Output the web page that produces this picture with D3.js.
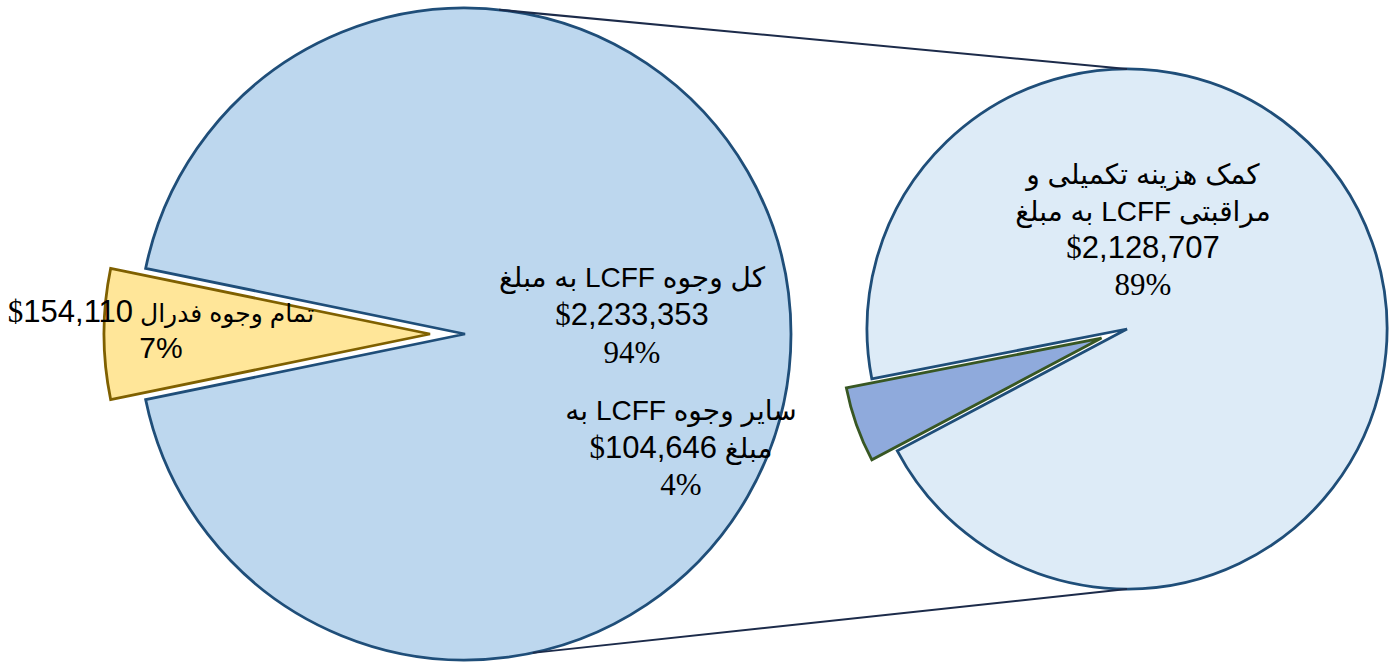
<!DOCTYPE html>
<html>
<head>
<meta charset="utf-8">
<script src="https://cdn.jsdelivr.net/npm/d3@7"></script>
<style>
  html, body { margin: 0; padding: 0; background: #fff; }
  svg { display: block; }
</style>
</head>
<body>
<div id="chart"></div>
<script>
/*global d3*/
(function () {
    "use strict";

    // Main pie: all LCFF funds vs. federal funds
    var mainCategories = ["کل وجوه LCFF", "تمام وجوه فدرال"];
    var mainValues = [2233353, 154110];
    var mainPercents = ["94%", "7%"];

    // Second pie: breakdown of LCFF
    var subCategories = ["کمک هزینه تکمیلی و مراقبتی LCFF", "سایر وجوه LCFF"];
    var subValues = [2128707, 104646];
    var subPercents = ["89%", "4%"];

    var width = 1390,
        height = 663,
        deg = Math.PI / 180;

    var geom = {
        main: {cx: 465, cy: 334, r: 326, explodeIndex: 1, explodeAt: 270, explode: 35},
        sub: {cx: 1127, cy: 329, r: 260, explodeIndex: 1, explodeAt: 250.5, explode: 27}
    };

    var colors = {
        mainFill: ["#bdd7ee", "#ffe699"],
        mainStroke: ["#1f4e79", "#7f6000"],
        subFill: ["#ddebf7", "#8faadc"],
        subStroke: ["#1f4e79", "#385723"],
        connector: "#1c2b4a"
    };

    var money = function (v) {
        return "$" + d3.format(",")(v);
    };

    // label lines are broken the same way as in the original chart
    var labels = [
        {lines: [mainCategories[0] + " به مبلغ", money(mainValues[0]), mainPercents[0]],
            x: 632, y: 287, lh: 38, pctSerif: true, arSize: 28},
        {lines: [mainCategories[1] + " " + money(mainValues[1]), mainPercents[1]],
            x: 161, y: 322, lh: 36, pctSerif: false, arSize: 25},
        {lines: ["کمک هزینه تکمیلی و", "مراقبتی LCFF به مبلغ", money(subValues[0]), subPercents[0]],
            x: 1143, y: 184, lh: 37, pctSerif: true, arSize: 28},
        {lines: [subCategories[1] + " به", "مبلغ " + money(subValues[1]), subPercents[1]],
            x: 681, y: 420, lh: 37.5, pctSerif: true, arSize: 28}
    ];

    var svg = d3.select("#chart").append("svg")
        .attr("width", width)
        .attr("height", height);

    // rotate the pie so the exploded slice is centred on the given angle
    var layoutPie = function (values, g) {
        var total = d3.sum(values),
            before = d3.sum(values.slice(0, g.explodeIndex)),
            span = values[g.explodeIndex] / total * 2 * Math.PI,
            start = g.explodeAt * deg - span / 2 - before / total * 2 * Math.PI;
        return d3.pie().sort(null).startAngle(start).endAngle(start + 2 * Math.PI)(values);
    };

    var drawPie = function (values, g, fills, strokes) {
        var arcs = layoutPie(values, g),
            arc = d3.arc().innerRadius(0).outerRadius(g.r),
            grp = svg.append("g").attr("transform", "translate(" + g.cx + "," + g.cy + ")");

        grp.selectAll("path")
            .data(arcs)
            .enter().append("path")
            .attr("d", arc)
            .attr("transform", function (d, i) {
                if (i !== g.explodeIndex) {
                    return null;
                }
                var a = (d.startAngle + d.endAngle) / 2;
                return "translate(" + (Math.sin(a) * g.explode) + "," + (-Math.cos(a) * g.explode) + ")";
            })
            .style("fill", function (d, i) { return fills[i]; })
            .style("stroke", function (d, i) { return strokes[i]; })
            .style("stroke-width", 2.8)
            .style("stroke-linejoin", "miter");
    };

    drawPie(mainValues, geom.main, colors.mainFill, colors.mainStroke);
    drawPie(subValues, geom.sub, colors.subFill, colors.subStroke);

    // connector lines between the two pies
    var pt = function (g, a) {
        return [g.cx + Math.sin(a * deg) * g.r, g.cy - Math.cos(a * deg) * g.r];
    };
    var connectors = [[pt(geom.main, 6), pt(geom.sub, 0)], [pt(geom.main, 168), pt(geom.sub, 180)]];
    svg.selectAll("line.connector")
        .data(connectors)
        .enter().append("line")
        .attr("class", "connector")
        .attr("x1", function (d) { return d[0][0]; })
        .attr("y1", function (d) { return d[0][1]; })
        .attr("x2", function (d) { return d[1][0]; })
        .attr("y2", function (d) { return d[1][1]; })
        .style("stroke", colors.connector)
        .style("stroke-width", 2);

    // labels: "$" and most "%" glyphs come out in a serif face in the original
    var sans = "'Liberation Sans', Arial, 'DejaVu Sans', sans-serif",
        serif = "'Liberation Serif', 'Times New Roman', serif";

    var addLine = function (sel, text, lab) {
        var rtl = /[\u0600-\u06FF]/.test(text),
            t = sel.append("text")
                .attr("text-anchor", "middle")
                .attr("direction", rtl ? "rtl" : "ltr")
                .style("font-family", sans)
                .style("font-size", (rtl ? lab.arSize : 28) + "px")
                .style("fill", "#000");
        if (/%$/.test(text)) {
            t.style("font-family", lab.pctSerif ? serif : sans)
                .style("font-size", lab.pctSerif ? "31px" : "30px")
                .text(text);
            return t;
        }
        text.split(/(\$[\d,]+)/).forEach(function (part) {
            if (part === "") {
                return;
            }
            if (part.charAt(0) !== "$") {
                t.append("tspan").text(part);
                return;
            }
            // keep "$" + digits in one left-to-right run inside RTL lines
            t.append("tspan")
                .style("font-family", serif)
                .style("font-size", "31px")
                .text((rtl ? "\u2066" : "") + "$");
            t.append("tspan")
                .style("font-size", "31px")
                .text(part.slice(1) + (rtl ? "\u2069" : ""));
        });
        return t;
    };

    labels.forEach(function (lab) {
        var g = svg.append("g");
        lab.lines.forEach(function (line, i) {
            addLine(g, line, lab)
                .attr("x", lab.x)
                .attr("y", lab.y + i * lab.lh);
        });
    });
}());
</script>
</body>
</html>
